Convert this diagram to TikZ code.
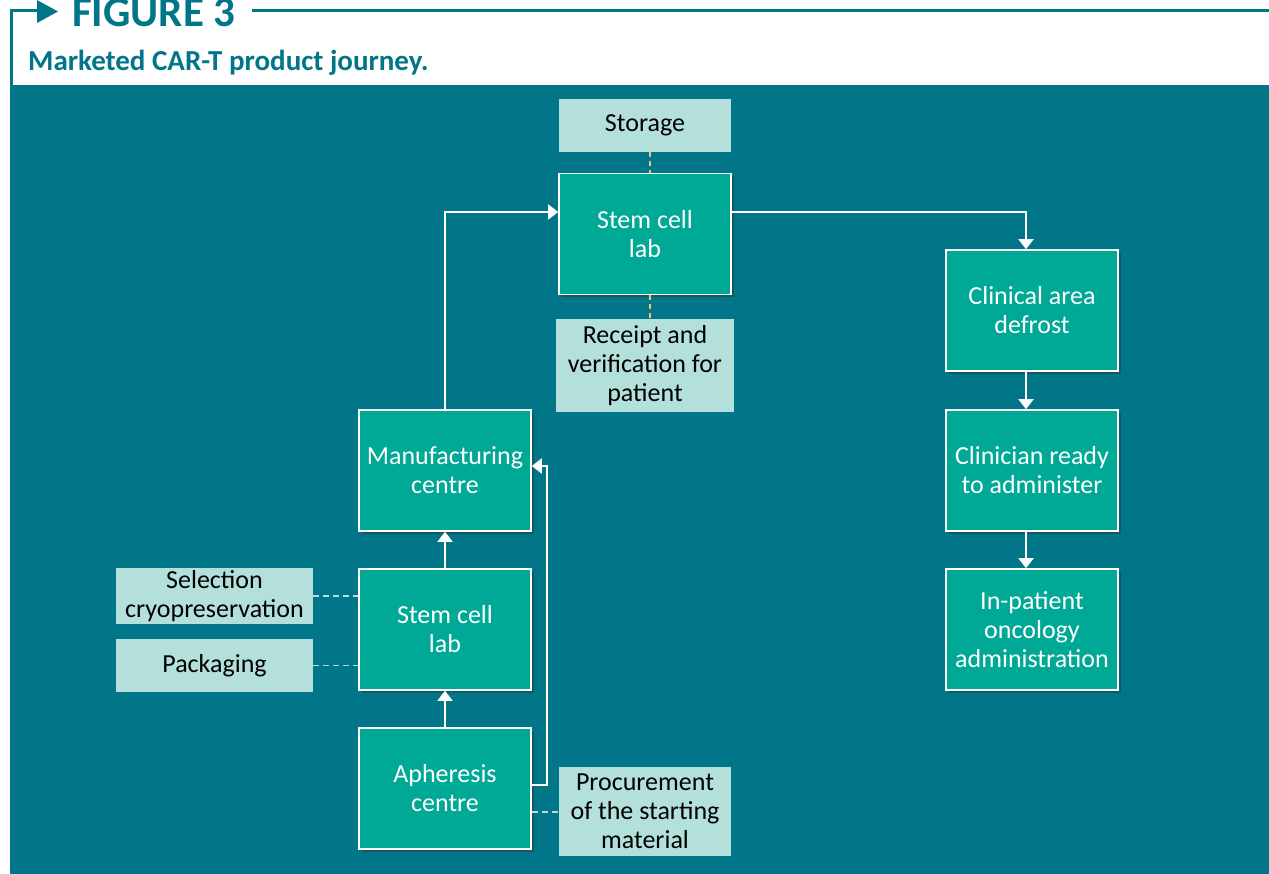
\documentclass[tikz,border=0pt]{standalone}
\usepackage{fontspec}
\setmainfont{Carlito}
\usetikzlibrary{arrows.meta,shadows}
\definecolor{panelteal}{HTML}{007688}
\definecolor{boxgreen}{HTML}{00A896}
\definecolor{notebox}{HTML}{B4E0DC}
\definecolor{dashorange}{HTML}{F2C07A}
\definecolor{dashgrey}{HTML}{C4D4D8}
\tikzset{
  stepbox/.style={draw=white, line width=1.6pt, fill=boxgreen, text=white,
    minimum width=172pt, minimum height=121pt, align=center, inner sep=2pt,
    font=\fontsize{26}{29}\selectfont,
    drop shadow={opacity=0.45, shadow xshift=3pt, shadow yshift=-3pt, fill=black!80}},
  notenode/.style={fill=notebox, text=black, align=center, inner sep=2pt,
    font=\fontsize{26}{29}\selectfont},
  flow/.style={draw=white, line width=1.8pt, -{Triangle[width=15pt,length=10pt]}},
  dashlink/.style={draw=dashorange, line width=1.6pt, dash pattern=on 5pt off 4pt},
  greylink/.style={draw=dashgrey, line width=1.6pt, dash pattern=on 6pt off 4pt},
}
\begin{document}
\begin{tikzpicture}[x=1pt,y=-1pt]
\useasboundingbox (0,0) rectangle (1269,874);
\fill[white] (0,0) rectangle (1269,874);

% header frame and title
\draw[panelteal, line width=3pt] (11,874) -- (11,11) -- (40,11);
\fill[panelteal] (37,0) -- (58,11.5) -- (37,23) -- cycle;
\draw[panelteal, line width=3pt] (252,11) -- (1269,11);
\node[anchor=base west, inner sep=0pt, text=panelteal, font=\fontsize{43}{43}\selectfont\bfseries] (fig) at (72,27) {FIGURE 3};
\node[anchor=base west, inner sep=0pt, text=panelteal, font=\fontsize{29}{29}\selectfont\bfseries] (sub) at (28,71) {Marketed CAR-T product journey.};

% panel
\fill[panelteal] (11,85) rectangle (1269,874);

% note boxes
\node[notenode, minimum width=172pt, minimum height=53pt] (storage) at (645,125.5) {Storage};
\node[notenode, minimum width=178pt, minimum height=93pt] (receipt) at (645,365.5) {Receipt and\\verification for\\patient};
\node[notenode, minimum width=197pt, minimum height=54pt] (selection) at (214.5,596) {Selection\\cryopreservation};
\node[notenode, minimum width=197pt, minimum height=53pt] (packaging) at (214.5,665.5) {Packaging};
\node[notenode, minimum width=172pt, minimum height=89pt] (procure) at (645,811.5) {Procurement\\of the starting\\material};

% process boxes
\node[stepbox] (lab1) at (645,234) {Stem cell\\lab};
\node[stepbox] (manuf) at (445,470.5) {Manufacturing\\centre};
\node[stepbox] (lab2) at (445,629.5) {Stem cell\\lab};
\node[stepbox] (apher) at (445,788.5) {Apheresis\\centre};
\node[stepbox] (defrost) at (1032,310.5) {Clinical area\\defrost};
\node[stepbox] (ready) at (1032,470.5) {Clinician ready\\to administer};
\node[stepbox] (inpat) at (1032,629.5) {In-patient\\oncology\\administration};

% dashed links to notes
\draw[dashlink] (storage.south -| 650,0) -- (lab1.north -| 650,0);
\draw[dashlink] (lab1.south -| 650,0) -- (receipt.north -| 650,0);
\draw[greylink] (selection.east) -- (selection.east -| lab2.west);
\draw[greylink] (packaging.east) -- (packaging.east -| lab2.west);
\draw[greylink] (apher.east |- 0,812) -- (procure.west |- 0,812);

% main flow
\draw[flow] (apher.north) -- (lab2.south);
\draw[flow] (lab2.north) -- (manuf.south);
\coordinate (bypass) at (547,785);
\draw[flow] (apher.east |- bypass) -- (bypass) -- (bypass |- 0,466) -- (manuf.east |- 0,466);
\coordinate (upturn) at (445,212);
\draw[flow] (manuf.north) -- (upturn) -- (lab1.west |- upturn);
\coordinate (rightturn) at (1026,212);
\draw[flow] (lab1.east |- rightturn) -- (rightturn) -- (rightturn |- defrost.north);
\draw[flow] (defrost.south -| 1026,0) -- (ready.north -| 1026,0);
\draw[flow] (ready.south -| 1026,0) -- (inpat.north -| 1026,0);
\end{tikzpicture}
\end{document}
